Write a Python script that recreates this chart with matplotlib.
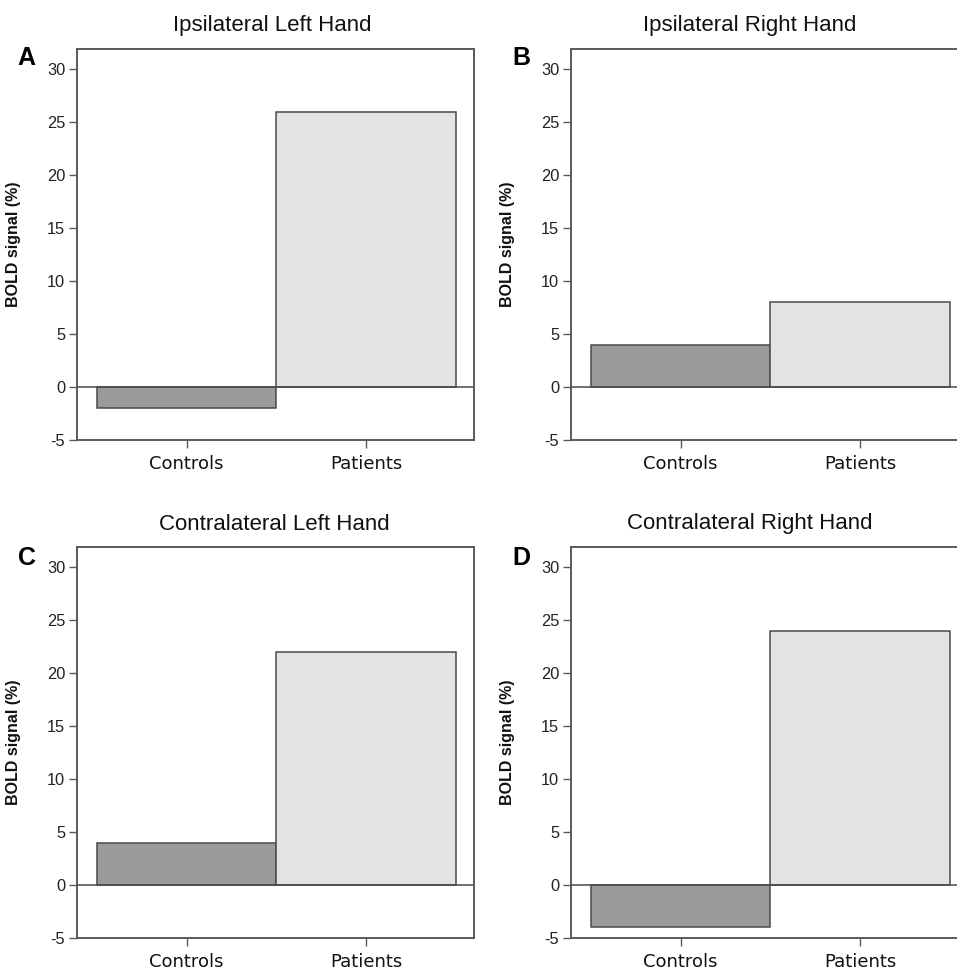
import matplotlib
matplotlib.use("Agg")
import matplotlib.pyplot as plt

groups = ["Controls", "Patients"]
titles = ["Ipsilateral Left Hand", "Ipsilateral Right Hand",
          "Contralateral Left Hand", "Contralateral Right Hand"]
letters = ["A", "B", "C", "D"]
values_A = [-2, 26]
values_B = [4, 8]
values_C = [4, 22]
values_D = [-4, 24]
all_values = [values_A, values_B, values_C, values_D]
yticks = [-5, 0, 5, 10, 15, 20, 25, 30]

W, H = 957, 976
fig = plt.figure(figsize=(W / 100, H / 100), dpi=100)
fig.patch.set_facecolor("white")

# axes boxes in pixels: (left, top, right, bottom)
boxes = [(77, 49, 474, 440), (571, 49, 968, 440),
         (77, 547, 474, 938), (571, 547, 968, 938)]
title_pos = [(272, 26), (750, 26), (274, 524), (750, 524)]
letter_pos = [(17, 58), (512, 58), (18, 558), (512, 558)]
ylabel_x = [14, 508, 14, 508]

bar_colors = ["#9b9b9b", "#e3e3e3"]
edge = "#4a4a4a"
spine_c = "#5a5a5a"

for i, vals in enumerate(all_values):
    l, t, r, b = boxes[i]
    ax = fig.add_axes([l / W, 1 - b / H, (r - l) / W, (b - t) / H])
    ax.bar(range(len(groups)), vals, width=1.0, color=bar_colors,
           edgecolor=edge, linewidth=1.1, zorder=2)
    ax.axhline(0, color=edge, linewidth=1.1, zorder=3)
    ax.set_xlim(-0.61, 1.60)
    ax.set_ylim(-5, 31.9)
    ax.set_yticks(yticks)
    ax.set_yticklabels([str(v) for v in yticks], fontsize=11.8,
                       family="Liberation Sans", color="#222222")
    ax.set_xticks(range(len(groups)))
    ax.set_xticklabels(groups, fontsize=13, family="DejaVu Sans", color="#111111")
    ax.tick_params(axis="y", length=5.5, width=1, color=spine_c, pad=3)
    ax.tick_params(axis="x", length=5.5, width=1, color=spine_c, pad=5)
    for s in ax.spines.values():
        s.set_color(spine_c)
        s.set_linewidth(1.4)
    tx, ty = title_pos[i]
    fig.text(tx / W, 1 - ty / H, titles[i], ha="center", va="center",
             fontsize=16, family="Liberation Sans", color="#111111")
    lx, ly = letter_pos[i]
    fig.text(lx / W, 1 - ly / H, letters[i], ha="left", va="center",
             fontsize=18, fontweight="bold", family="Liberation Sans", color="#000000")
    cy = (t + b) / 2
    fig.text(ylabel_x[i] / W, 1 - cy / H, "BOLD signal (%)", rotation=90,
             ha="center", va="center", fontsize=11.5, fontweight="bold",
             family="Liberation Sans", color="#111111")

fig.savefig("out.png", dpi=100, facecolor="white")
